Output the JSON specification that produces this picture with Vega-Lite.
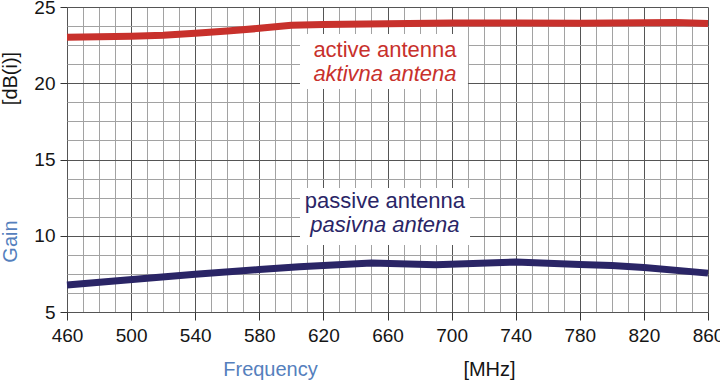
{
  "$schema": "https://vega.github.io/schema/vega-lite/v6.json",
  "width": 641,
  "height": 305,
  "autosize": {"type": "none"},
  "padding": {"left": 67, "top": 7, "right": 12, "bottom": 72},
  "background": "white",
  "config": {
    "view": {"stroke": null},
    "font": "Liberation Sans",
    "axis": {"labelFont": "Liberation Sans", "titleFont": "Liberation Sans", "labelFlush": false, "labelOverlap": false}
  },
  "datasets": {
    "lines": [
      {"antenna": "active", "freq": 460, "gain": 23.02},
      {"antenna": "active", "freq": 480, "gain": 23.05},
      {"antenna": "active", "freq": 500, "gain": 23.08},
      {"antenna": "active", "freq": 520, "gain": 23.15},
      {"antenna": "active", "freq": 540, "gain": 23.28},
      {"antenna": "active", "freq": 560, "gain": 23.42},
      {"antenna": "active", "freq": 580, "gain": 23.6},
      {"antenna": "active", "freq": 600, "gain": 23.8},
      {"antenna": "active", "freq": 620, "gain": 23.86},
      {"antenna": "active", "freq": 660, "gain": 23.9},
      {"antenna": "active", "freq": 700, "gain": 23.95},
      {"antenna": "active", "freq": 740, "gain": 23.95},
      {"antenna": "active", "freq": 780, "gain": 23.93},
      {"antenna": "active", "freq": 820, "gain": 23.96},
      {"antenna": "active", "freq": 840, "gain": 23.98},
      {"antenna": "active", "freq": 860, "gain": 23.92},
      {"antenna": "passive", "freq": 460, "gain": 6.77},
      {"antenna": "passive", "freq": 510, "gain": 7.22},
      {"antenna": "passive", "freq": 540, "gain": 7.48},
      {"antenna": "passive", "freq": 580, "gain": 7.78},
      {"antenna": "passive", "freq": 605, "gain": 7.97},
      {"antenna": "passive", "freq": 650, "gain": 8.22},
      {"antenna": "passive", "freq": 690, "gain": 8.1},
      {"antenna": "passive", "freq": 740, "gain": 8.28},
      {"antenna": "passive", "freq": 780, "gain": 8.12},
      {"antenna": "passive", "freq": 800, "gain": 8.05},
      {"antenna": "passive", "freq": 820, "gain": 7.92},
      {"antenna": "passive", "freq": 860, "gain": 7.55}
    ],
    "boxes": [
      {"antenna": "active", "f1": 605.4, "f2": 710.2, "g1": 23.23, "g2": 19.62},
      {"antenna": "passive", "f1": 605.4, "f2": 711.5, "g1": 13.13, "g2": 9.39}
    ],
    "labels": [
      {"antenna": "active", "lang": "en", "text": "active antenna", "freq": 658.4, "gain": 21.72},
      {"antenna": "active", "lang": "sl", "text": "aktivna antena", "freq": 658.4, "gain": 20.15},
      {"antenna": "passive", "lang": "en", "text": "passive antenna", "freq": 658.4, "gain": 11.8},
      {"antenna": "passive", "lang": "sl", "text": "pasivna antena", "freq": 658.4, "gain": 10.27}
    ]
  },
  "resolve": {"axis": {"x": "independent", "y": "independent"}},
  "layer": [
    {
      "data": {"name": "lines"},
      "mark": {"type": "line", "opacity": 0},
      "encoding": {
        "x": {
          "field": "freq", "type": "quantitative",
          "scale": {"domain": [460, 860], "nice": false, "zero": false},
          "axis": {
            "orient": "bottom",
            "values": [470, 480, 490, 510, 520, 530, 550, 560, 570, 590, 600, 610, 630, 640, 650, 670, 680, 690, 710, 720, 730, 750, 760, 770, 790, 800, 810, 830, 840, 850],
            "grid": true, "gridColor": "#a2a2a2", "gridWidth": 1,
            "labels": false, "ticks": false, "domain": false,
            "title": "[MHz]", "titleColor": "#151515", "titleFontSize": 20, "titleFontWeight": "normal",
            "titleX": 422, "titleY": 63, "titleAlign": "center", "titleBaseline": "alphabetic"
          }
        },
        "y": {
          "field": "gain", "type": "quantitative",
          "scale": {"domain": [5, 25], "nice": false, "zero": false},
          "axis": {
            "orient": "left",
            "values": [6.25, 7.5, 8.75, 11.25, 12.5, 13.75, 16.25, 17.5, 18.75, 21.25, 22.5, 23.75],
            "grid": true, "gridColor": "#a2a2a2", "gridWidth": 1,
            "labels": false, "ticks": false, "domain": false,
            "title": "[dB(i)]", "titleColor": "#151515", "titleFontSize": 20, "titleFontWeight": "normal",
            "titleX": -51, "titleY": 71, "titleAngle": 270, "titleAlign": "center", "titleBaseline": "alphabetic"
          }
        },
        "detail": {"field": "antenna"}
      }
    },
    {
      "data": {"name": "lines"},
      "mark": {"type": "line", "strokeWidth": 7, "strokeCap": "butt", "strokeJoin": "round"},
      "encoding": {
        "x": {
          "field": "freq", "type": "quantitative",
          "axis": {
            "orient": "bottom",
            "values": [460, 500, 540, 580, 620, 660, 700, 740, 780, 820, 860],
            "grid": true, "gridColor": "#555555", "gridWidth": 1,
            "ticks": true, "tickColor": "#333333", "tickSize": 8, "tickWidth": 1,
            "domain": false,
            "labelFontSize": 19, "labelColor": "#151515", "labelPadding": 6,
            "title": "Frequency", "titleColor": "#5580bd", "titleFontSize": 20, "titleFontWeight": "normal",
            "titleX": 203, "titleY": 63, "titleAlign": "center", "titleBaseline": "alphabetic"
          }
        },
        "y": {
          "field": "gain", "type": "quantitative",
          "axis": {
            "orient": "left",
            "values": [5, 10, 15, 20, 25],
            "grid": true, "gridColor": "#555555", "gridWidth": 1,
            "ticks": true, "tickColor": "#333333", "tickSize": 7, "tickWidth": 1,
            "domain": false,
            "labelFontSize": 19, "labelColor": "#151515", "labelPadding": 5,
            "title": "Gain", "titleColor": "#5580bd", "titleFontSize": 20, "titleFontWeight": "normal",
            "titleX": -51, "titleY": 234, "titleAngle": 270, "titleAlign": "center", "titleBaseline": "alphabetic"
          }
        },
        "color": {
          "field": "antenna", "type": "nominal",
          "scale": {"domain": ["active", "passive"], "range": ["#c8312c", "#2a2566"]},
          "legend": null
        }
      }
    },
    {
      "data": {"name": "boxes"},
      "mark": {"type": "rect", "fill": "white"},
      "encoding": {
        "x": {"field": "f1", "type": "quantitative", "axis": null},
        "x2": {"field": "f2"},
        "y": {"field": "g1", "type": "quantitative", "axis": null},
        "y2": {"field": "g2"}
      }
    },
    {
      "data": {"name": "labels"},
      "transform": [{"filter": "datum.lang === 'en'"}],
      "mark": {"type": "text", "fontSize": 22, "align": "center", "baseline": "alphabetic"},
      "encoding": {
        "x": {"field": "freq", "type": "quantitative", "axis": null},
        "y": {"field": "gain", "type": "quantitative", "axis": null},
        "text": {"field": "text"},
        "color": {"field": "antenna", "type": "nominal", "legend": null}
      }
    },
    {
      "data": {"name": "labels"},
      "transform": [{"filter": "datum.lang === 'sl'"}],
      "mark": {"type": "text", "fontSize": 22, "fontStyle": "italic", "align": "center", "baseline": "alphabetic"},
      "encoding": {
        "x": {"field": "freq", "type": "quantitative", "axis": null},
        "y": {"field": "gain", "type": "quantitative", "axis": null},
        "text": {"field": "text"},
        "color": {"field": "antenna", "type": "nominal", "legend": null}
      }
    }
  ]
}
